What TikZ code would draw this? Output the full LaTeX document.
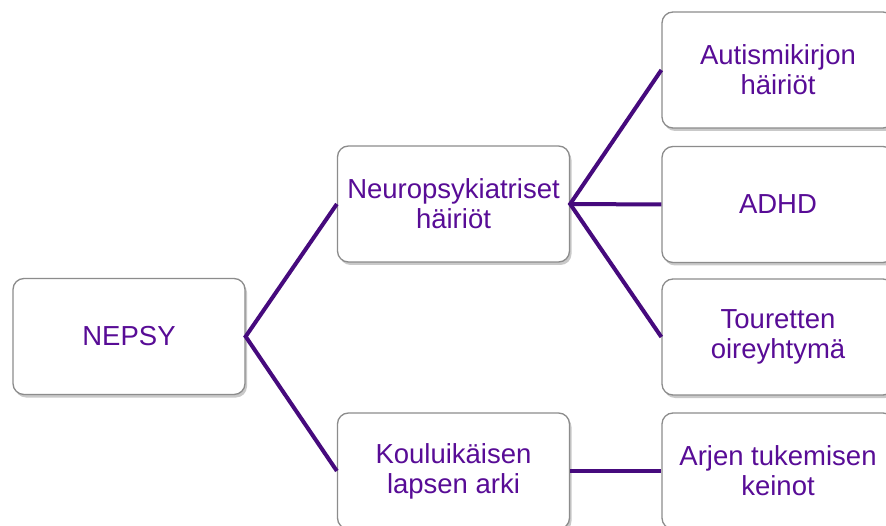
\documentclass[tikz,border=0pt]{standalone}
\usepackage{fontspec}
\setmainfont{Liberation Sans}
\usetikzlibrary{shadows}
\definecolor{linepurple}{RGB}{70,10,125}
\definecolor{textpurple}{RGB}{88,12,150}
\definecolor{boxgray}{RGB}{140,140,140}
\tikzset{
  box/.style={draw=boxgray, line width=1.3pt, fill=white, rounded corners=11pt,
    minimum width=232pt, minimum height=116pt, inner sep=0pt,
    align=center, text=textpurple,
    font=\fontsize{27.5pt}{30pt}\selectfont,
    drop shadow={shadow xshift=2pt, shadow yshift=-3pt, opacity=0.35, fill=black!60}},
  conn/.style={draw=linepurple, line width=4pt}
}
\begin{document}
\begin{tikzpicture}[x=1pt,y=-1pt]
\useasboundingbox (0,0) rectangle (886,526);
\clip (0,0) rectangle (886,526);
\fill[white] (0,0) rectangle (886,526);
\node[box] (nepsy) at (129,336.5) {NEPSY};
\node[box] (neuro) at (453.5,204) {Neuropsykiatriset\\häiriöt};
\node[box] (koulu) at (453.5,471) {Kouluikäisen\\lapsen arki};
\node[box] (autism) at (778,70) {Autismikirjon\\häiriöt};
\node[box] (adhd) at (778,204.5) {ADHD};
\node[box] (tour) at (778,337) {Touretten\\oireyhtymä};
\node[box] (arjen) at (778,471) {Arjen tukemisen\\keinot};
\draw[conn] (neuro.west) -- (nepsy.east) -- (koulu.west);
\draw[conn] (autism.west) -- (neuro.east) -- (tour.west);
\draw[conn] (neuro.east) -- (adhd.west);
\draw[conn] (koulu.east) -- (arjen.west);
\end{tikzpicture}
\end{document}
